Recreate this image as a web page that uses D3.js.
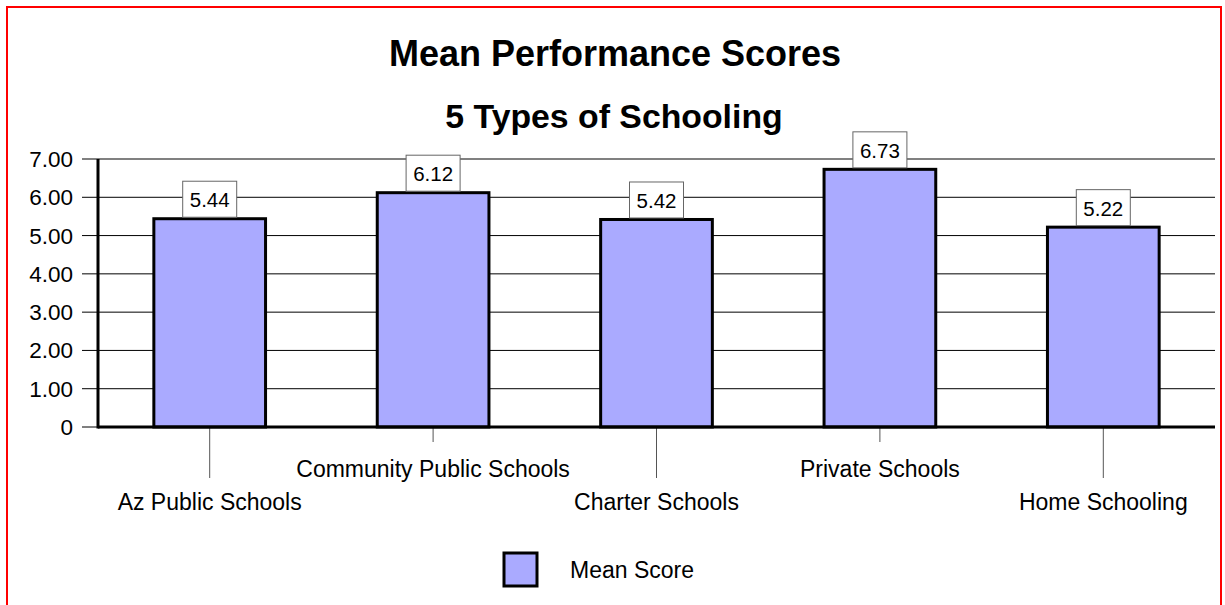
<!DOCTYPE html>
<html>
<head>
<meta charset="utf-8">
<script src="https://cdn.jsdelivr.net/npm/d3@7"></script>
<style>
  body { margin: 0; background: #fff; }
  text { font-family: Arial, "Liberation Sans", sans-serif; fill: #000; }
</style>
</head>
<body>
<div id="chart"></div>
<script>
const categories = ['Az Public Schools', 'Community Public Schools', 'Charter Schools', 'Private Schools', 'Home Schooling'];
const meanScores = [5.44, 6.12, 5.42, 6.73, 5.22];
const yTicks = [0, 1, 2, 3, 4, 5, 6, 7];
const seriesName = 'Mean Score';

const width = 1225, height = 605;
const plot = {left: 98, right: 1215, top: 159, bottom: 427};

const svg = d3.select('#chart').append('svg')
    .attr('width', width)
    .attr('height', height);

// red frame
svg.append('rect')
    .attr('x', 7).attr('y', 7)
    .attr('width', 1214).attr('height', 620)
    .attr('fill', 'none')
    .attr('stroke', '#ff0000')
    .attr('stroke-width', 2);

// titles
svg.append('text')
    .attr('x', 615).attr('y', 66)
    .attr('text-anchor', 'middle')
    .style('font-size', '36px').style('font-weight', 'bold')
    .text('Mean Performance Scores');
svg.append('text')
    .attr('x', 614).attr('y', 128)
    .attr('text-anchor', 'middle')
    .style('font-size', '33.8px').style('font-weight', 'bold')
    .text('5 Types of Schooling');

const x = d3.scaleBand()
    .domain(categories)
    .range([plot.left, plot.right])
    .paddingInner(0.5)
    .paddingOuter(0.25);

const y = d3.scaleLinear()
    .domain([0, 7])
    .range([plot.bottom, plot.top]);

// gridlines + y tick labels
const grid = svg.append('g');
grid.selectAll('line')
    .data(yTicks.filter(d => d > 0))
    .enter().append('line')
    .attr('x1', 82).attr('x2', plot.right)
    .attr('y1', d => y(d)).attr('y2', d => y(d))
    .attr('stroke', d => d === 7 ? '#808080' : '#000')
    .attr('stroke-width', d => d === 7 ? 2 : 1);

svg.append('line')
    .attr('x1', 82).attr('x2', plot.left)
    .attr('y1', y(0)).attr('y2', y(0))
    .attr('stroke', '#000');

svg.append('g').selectAll('text')
    .data(yTicks)
    .enter().append('text')
    .attr('x', 73)
    .attr('y', d => y(d) + 8)
    .attr('text-anchor', 'end')
    .style('font-size', '22.5px')
    .text(d => d === 0 ? '0' : d3.format('.2f')(d));

// category ticks (staggered)
svg.append('g').selectAll('line')
    .data(categories)
    .enter().append('line')
    .attr('x1', d => x(d) + x.bandwidth() / 2)
    .attr('x2', d => x(d) + x.bandwidth() / 2)
    .attr('y1', y(0))
    .attr('y2', (d, i) => i % 2 === 0 ? 478 : 442)
    .attr('stroke', '#555')
    .attr('stroke-width', 1);

svg.append('g').selectAll('text')
    .data(categories)
    .enter().append('text')
    .attr('x', d => x(d) + x.bandwidth() / 2)
    .attr('y', (d, i) => i % 2 === 0 ? 510 : 477)
    .attr('text-anchor', 'middle')
    .style('font-size', '23px')
    .text(d => d);

// bars
svg.append('g').selectAll('rect')
    .data(meanScores)
    .enter().append('rect')
    .attr('x', (d, i) => x(categories[i]))
    .attr('y', d => y(d))
    .attr('width', x.bandwidth())
    .attr('height', d => y(0) - y(d))
    .attr('fill', '#aaaaff')
    .attr('stroke', '#000')
    .attr('stroke-width', 3);

// axes
svg.append('line')
    .attr('x1', plot.left).attr('x2', plot.left)
    .attr('y1', plot.top).attr('y2', plot.bottom + 1.5)
    .attr('stroke', '#000').attr('stroke-width', 3);
svg.append('line')
    .attr('x1', plot.left).attr('x2', plot.right)
    .attr('y1', plot.bottom).attr('y2', plot.bottom)
    .attr('stroke', '#000').attr('stroke-width', 3);

// value labels
const labels = svg.append('g').selectAll('g')
    .data(meanScores)
    .enter().append('g')
    .attr('transform', (d, i) => 'translate(' + (x(categories[i]) + x.bandwidth() / 2) + ',' + (y(d) - 1.5) + ')');
labels.append('rect')
    .attr('x', -27).attr('y', -36)
    .attr('width', 54).attr('height', 36)
    .attr('fill', '#fff')
    .attr('stroke', '#666')
    .attr('stroke-width', 1);
labels.append('text')
    .attr('y', -10)
    .attr('text-anchor', 'middle')
    .style('font-size', '20.5px')
    .text(d => d3.format('.2f')(d));

// legend
svg.append('rect')
    .attr('x', 504).attr('y', 553)
    .attr('width', 33).attr('height', 33)
    .attr('fill', '#aaaaff')
    .attr('stroke', '#000')
    .attr('stroke-width', 3);
svg.append('text')
    .attr('x', 570).attr('y', 578)
    .style('font-size', '23px')
    .text(seriesName);
</script>
</body>
</html>
